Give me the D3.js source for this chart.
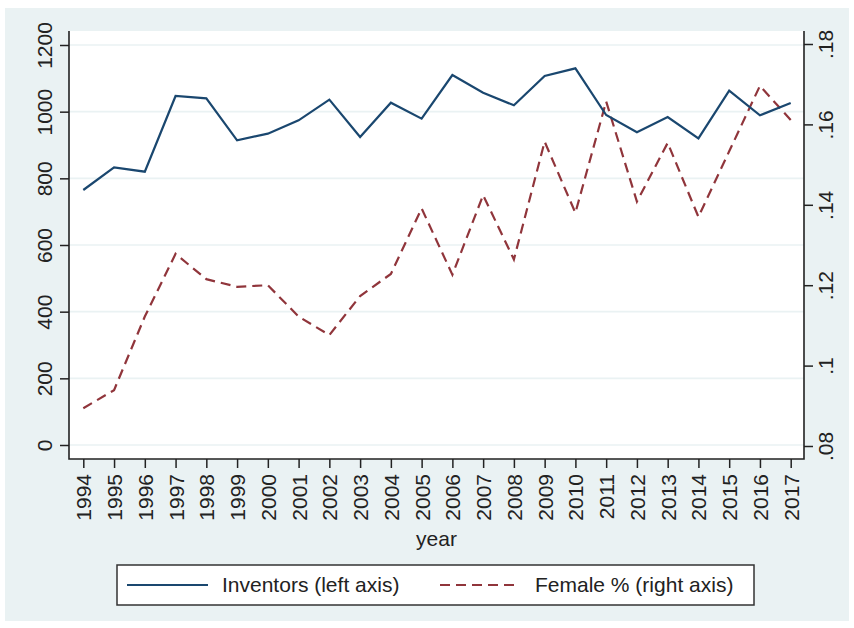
<!DOCTYPE html>
<html>
<head>
<meta charset="utf-8">
<script src="https://cdn.jsdelivr.net/npm/d3@7/dist/d3.min.js"></script>
<style>
  body { margin: 0; background: #fff; }
  svg { display: block; font-family: "Liberation Sans", Arial, sans-serif; }
</style>
</head>
<body>
<div id="chart"></div>
<script>
// data
const years = [1994, 1995, 1996, 1997, 1998, 1999, 2000, 2001, 2002, 2003, 2004, 2005,
  2006, 2007, 2008, 2009, 2010, 2011, 2012, 2013, 2014, 2015, 2016, 2017];
const inventors = [765, 833, 820, 1047, 1040, 914, 934, 974, 1036, 924, 1027, 979,
  1110, 1057, 1019, 1107, 1130, 990, 938, 984, 920, 1063, 989, 1026];
const femaleShare = [0.0894, 0.0939, 0.1122, 0.1278, 0.1215, 0.1196, 0.1200, 0.1122, 0.1076, 0.1173, 0.1228, 0.1391,
  0.1226, 0.1424, 0.1264, 0.1557, 0.1380, 0.1657, 0.1408, 0.1554, 0.1370, 0.1533, 0.1696, 0.1611];
const leftTicks = [0, 200, 400, 600, 800, 1000, 1200];
const rightTicks = [0.08, 0.10, 0.12, 0.14, 0.16, 0.18];
const legendItems = ["Inventors (left axis)", "Female % (right axis)"];

const width = 854, height = 628;
const plot = { left: 69, right: 804, top: 31, bottom: 459 };
const bg = "#eaf2f3", navy = "#1a476f", maroon = "#90353b", ink = "#222";
const fontSize = 21;

const svg = d3.select("#chart").append("svg")
  .attr("width", width)
  .attr("height", height);

// graph region + plot region
svg.append("rect").attr("x", 5).attr("y", 8).attr("width", 844).attr("height", 613).attr("fill", bg);
svg.append("rect")
  .attr("x", plot.left).attr("y", plot.top)
  .attr("width", plot.right - plot.left).attr("height", plot.bottom - plot.top)
  .attr("fill", "#fff");

// scales
const x = d3.scalePoint().domain(years).range([83.3, 790.7]);
const yL = d3.scaleLinear().domain([0, 1200]).range([445, 45]);
const yR = d3.scaleLinear().domain([0.08, 0.18]).range([446, 44]);

// grid lines (left axis)
svg.append("g").selectAll("line")
  .data(leftTicks)
  .enter().append("line")
  .attr("x1", plot.left).attr("x2", plot.right)
  .attr("y1", d => yL(d)).attr("y2", d => yL(d))
  .attr("stroke", bg).attr("stroke-width", 1.6);

// left axis
const leftAxis = svg.append("g")
  .attr("transform", `translate(${plot.left},0)`)
  .call(d3.axisLeft(yL).tickValues(leftTicks).tickSize(9).tickPadding(8).tickFormat(d3.format("d")));
leftAxis.select(".domain").remove();
leftAxis.selectAll(".tick line").attr("stroke", ink).attr("stroke-width", 1.5);
leftAxis.selectAll(".tick text")
  .attr("transform", "rotate(-90)")
  .attr("x", 0).attr("y", -17)
  .attr("dy", 0)
  .attr("text-anchor", "middle")
  .attr("fill", ink)
  .style("font-size", fontSize + "px");

// right axis
const rightAxis = svg.append("g")
  .attr("transform", `translate(${plot.right},0)`)
  .call(d3.axisRight(yR).tickValues(rightTicks).tickSize(9)
    .tickFormat(d => d3.format(".2f")(d).replace(/^0/, "").replace(/0$/, "")));
rightAxis.select(".domain").remove();
rightAxis.selectAll(".tick line").attr("stroke", ink).attr("stroke-width", 1.5);
rightAxis.selectAll(".tick text")
  .attr("transform", "rotate(-90)")
  .attr("x", 0).attr("y", 29)
  .attr("dy", 0)
  .attr("text-anchor", "middle")
  .attr("fill", ink)
  .style("font-size", fontSize + "px");

// bottom axis
const bottomAxis = svg.append("g")
  .attr("transform", `translate(0,${plot.bottom})`)
  .call(d3.axisBottom(x).tickSize(9).tickPadding(6));
bottomAxis.select(".domain").remove();
bottomAxis.selectAll(".tick line").attr("stroke", ink).attr("stroke-width", 1.5);
bottomAxis.selectAll(".tick text")
  .attr("transform", "rotate(-90)")
  .attr("x", -15).attr("y", 0)
  .attr("dy", "0.36em")
  .attr("text-anchor", "end")
  .attr("fill", ink)
  .style("font-size", fontSize + "px");

// axis lines
svg.append("path")
  .attr("d", `M${plot.left},${plot.top}V${plot.bottom}H${plot.right}V${plot.top}`)
  .attr("fill", "none").attr("stroke", ink).attr("stroke-width", 1.6);

// x title
svg.append("text")
  .attr("x", (plot.left + plot.right) / 2).attr("y", 546)
  .attr("text-anchor", "middle")
  .attr("fill", ink)
  .style("font-size", fontSize + "px")
  .text("year");

// series
const lineL = d3.line().x((d, i) => x(years[i])).y(d => yL(d));
const lineR = d3.line().x((d, i) => x(years[i])).y(d => yR(d));

svg.append("path")
  .datum(femaleShare)
  .attr("d", lineR)
  .attr("fill", "none")
  .attr("stroke", maroon).attr("stroke-width", 2.2)
  .attr("stroke-dasharray", "10,6");

svg.append("path")
  .datum(inventors)
  .attr("d", lineL)
  .attr("fill", "none")
  .attr("stroke", navy).attr("stroke-width", 2.2);

// legend
const legend = svg.append("g");
legend.append("rect")
  .attr("x", 117).attr("y", 565).attr("width", 637).attr("height", 40)
  .attr("fill", "#fff").attr("stroke", "#333").attr("stroke-width", 1.5);

const legendRows = [
  { label: legendItems[0], color: navy, dash: null, x0: 127, x1: 208, tx: 222 },
  { label: legendItems[1], color: maroon, dash: "10,6", x0: 440, x1: 520, tx: 535 }
];
legendRows.forEach(r => {
  legend.append("line")
    .attr("x1", r.x0).attr("x2", r.x1).attr("y1", 585).attr("y2", 585)
    .attr("stroke", r.color).attr("stroke-width", 2.2)
    .attr("stroke-dasharray", r.dash);
  legend.append("text")
    .attr("x", r.tx).attr("y", 592)
    .attr("fill", ink)
    .style("font-size", fontSize + "px")
    .text(r.label);
});
</script>
</body>
</html>
